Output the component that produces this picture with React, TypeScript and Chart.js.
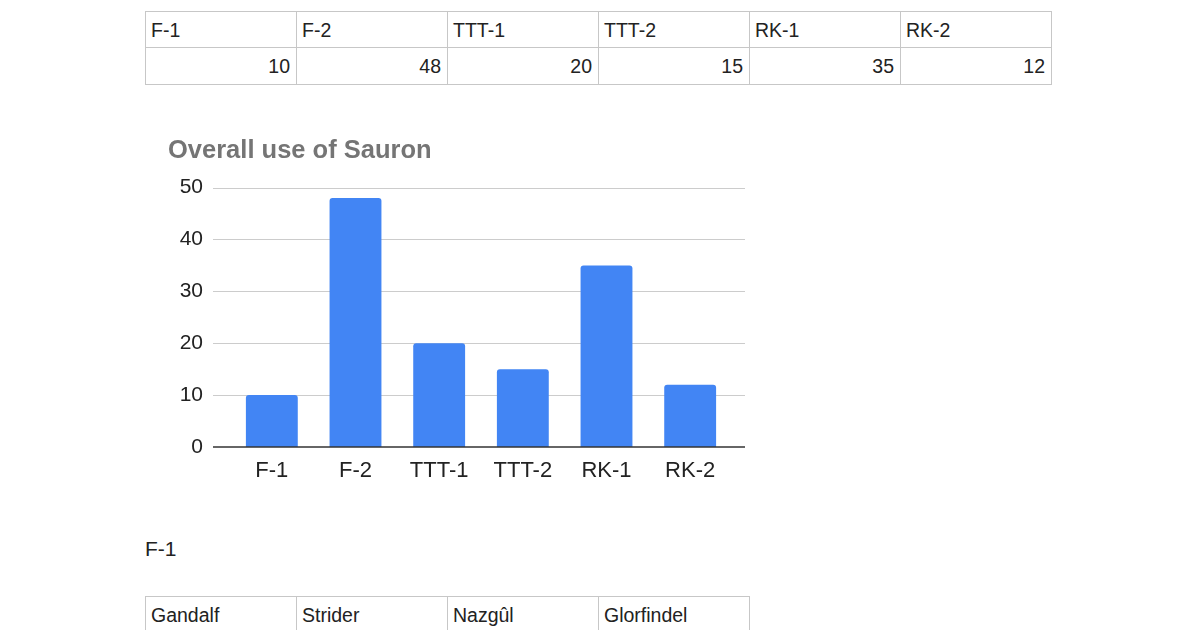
import React, { useEffect, useRef } from "react";
import { Chart, registerables } from "chart.js";

Chart.register(...registerables);

const categories = ["F-1", "F-2", "TTT-1", "TTT-2", "RK-1", "RK-2"];
const values = [10, 48, 20, 15, 35, 12];
const yMin = 0;
const yMax = 50;
const yStep = 10;
const chartTitle = "Overall use of Sauron";
const sectionLabel = "F-1";
const characters = ["Gandalf", "Strider", "Nazgûl", "Glorfindel"];

const FONT = '"Liberation Sans", Arial, Helvetica, sans-serif';

const extGridPlugin = {
  id: "extGrid",
  beforeDatasetsDraw(chart: any) {
    const { ctx, chartArea, scales } = chart;
    const y = scales.y;
    ctx.save();
    ctx.lineWidth = 1;
    ctx.strokeStyle = "#cccccc";
    y.ticks.forEach((t: any) => {
      if (t.value === 0) return;
      const py = Math.round(y.getPixelForValue(t.value)) + 0.5;
      ctx.beginPath();
      ctx.moveTo(chartArea.left - 17, py);
      ctx.lineTo(chartArea.right + 13, py);
      ctx.stroke();
    });
    ctx.restore();
  },
  afterDatasetsDraw(chart: any) {
    const { ctx, chartArea, scales } = chart;
    const y = scales.y;
    const py = Math.round(y.getPixelForValue(0));
    ctx.save();
    ctx.lineWidth = 1.5;
    ctx.strokeStyle = "#333333";
    ctx.beginPath();
    ctx.moveTo(chartArea.left - 17, py);
    ctx.lineTo(chartArea.right + 13, py);
    ctx.stroke();
    ctx.restore();
  },
};

function BarChart() {
  const ref = useRef<HTMLCanvasElement | null>(null);
  useEffect(() => {
    if (!ref.current) return;
    const chart = new Chart(ref.current, {
      type: "bar",
      data: {
        labels: categories,
        datasets: [
          {
            data: values,
            backgroundColor: "#4285f4",
            borderRadius: { topLeft: 3, topRight: 3, bottomLeft: 0, bottomRight: 0 },
            borderSkipped: "start",
            barPercentage: 0.62,
            categoryPercentage: 1,
          },
        ],
      },
      options: {
        responsive: false,
        animation: false,
        devicePixelRatio: 1,
        layout: { padding: { left: 0, right: 28, top: 0, bottom: 0 } },
        plugins: {
          legend: { display: false },
          tooltip: { enabled: false },
          title: {
            display: true,
            text: chartTitle,
            align: "start",
            color: "#757575",
            font: { family: FONT, size: 25.5, weight: "bold" },
            padding: { top: 11, bottom: 21 },
          },
        },
        scales: {
          x: {
            grid: { display: false },
            border: { display: false },
            ticks: {
              color: "#222222",
              padding: 3,
              font: { family: FONT, size: 22 },
              maxRotation: 0,
            },
            afterFit: (axis: any) => {
              axis.height = 48;
            },
          },
          y: {
            min: yMin,
            max: yMax,
            grid: { display: false },
            border: { display: false },
            ticks: {
              stepSize: yStep,
              color: "#222222",
              padding: 19,
              font: { family: FONT, size: 21 },
            },
            afterFit: (axis: any) => {
              axis.width = 62;
            },
          },
        },
      },
      plugins: [extGridPlugin],
    } as any);
    return () => chart.destroy();
  }, []);
  return (
    <canvas
      ref={ref}
      width={592}
      height={370}
      style={{ position: "absolute", left: 168, top: 125, width: 592, height: 370 }}
    />
  );
}

const cellStyle: React.CSSProperties = {
  border: "1px solid #c7c7c7",
  padding: "0 6px 0 5px",
  height: 36,
  boxSizing: "border-box",
  fontSize: 19.5,
  lineHeight: "22px",
  color: "#222",
  overflow: "hidden",
  whiteSpace: "nowrap",
};

export default function App() {
  return (
    <div
      style={{
        position: "fixed",
        left: 0,
        top: 0,
        width: 1200,
        height: 630,
        background: "#fff",
        overflow: "hidden",
        fontFamily: FONT,
      }}
    >
      <table
        style={{
          position: "absolute",
          left: 145,
          top: 11,
          borderCollapse: "collapse",
          tableLayout: "fixed",
          width: 907,
        }}
      >
        <colgroup>
          {categories.map((c) => (
            <col key={c} style={{ width: 151 }} />
          ))}
        </colgroup>
        <tbody>
          <tr>
            {categories.map((c) => (
              <td key={c} style={{ ...cellStyle, textAlign: "left" }}>
                {c}
              </td>
            ))}
          </tr>
          <tr>
            {values.map((v, i) => (
              <td key={i} style={{ ...cellStyle, height: 37, textAlign: "right" }}>
                {v}
              </td>
            ))}
          </tr>
        </tbody>
      </table>

      <BarChart />

      <div
        style={{
          position: "absolute",
          left: 145,
          top: 537,
          fontSize: 21,
          lineHeight: "24px",
          color: "#222",
        }}
      >
        {sectionLabel}
      </div>

      <table
        style={{
          position: "absolute",
          left: 145,
          top: 596,
          borderCollapse: "collapse",
          tableLayout: "fixed",
          width: 605,
        }}
      >
        <colgroup>
          {characters.map((c) => (
            <col key={c} style={{ width: 151 }} />
          ))}
        </colgroup>
        <tbody>
          <tr>
            {characters.map((c) => (
              <td key={c} style={{ ...cellStyle, textAlign: "left" }}>
                {c}
              </td>
            ))}
          </tr>
          <tr>
            {characters.map((c) => (
              <td key={c} style={{ ...cellStyle }}>
                &nbsp;
              </td>
            ))}
          </tr>
        </tbody>
      </table>
    </div>
  );
}
